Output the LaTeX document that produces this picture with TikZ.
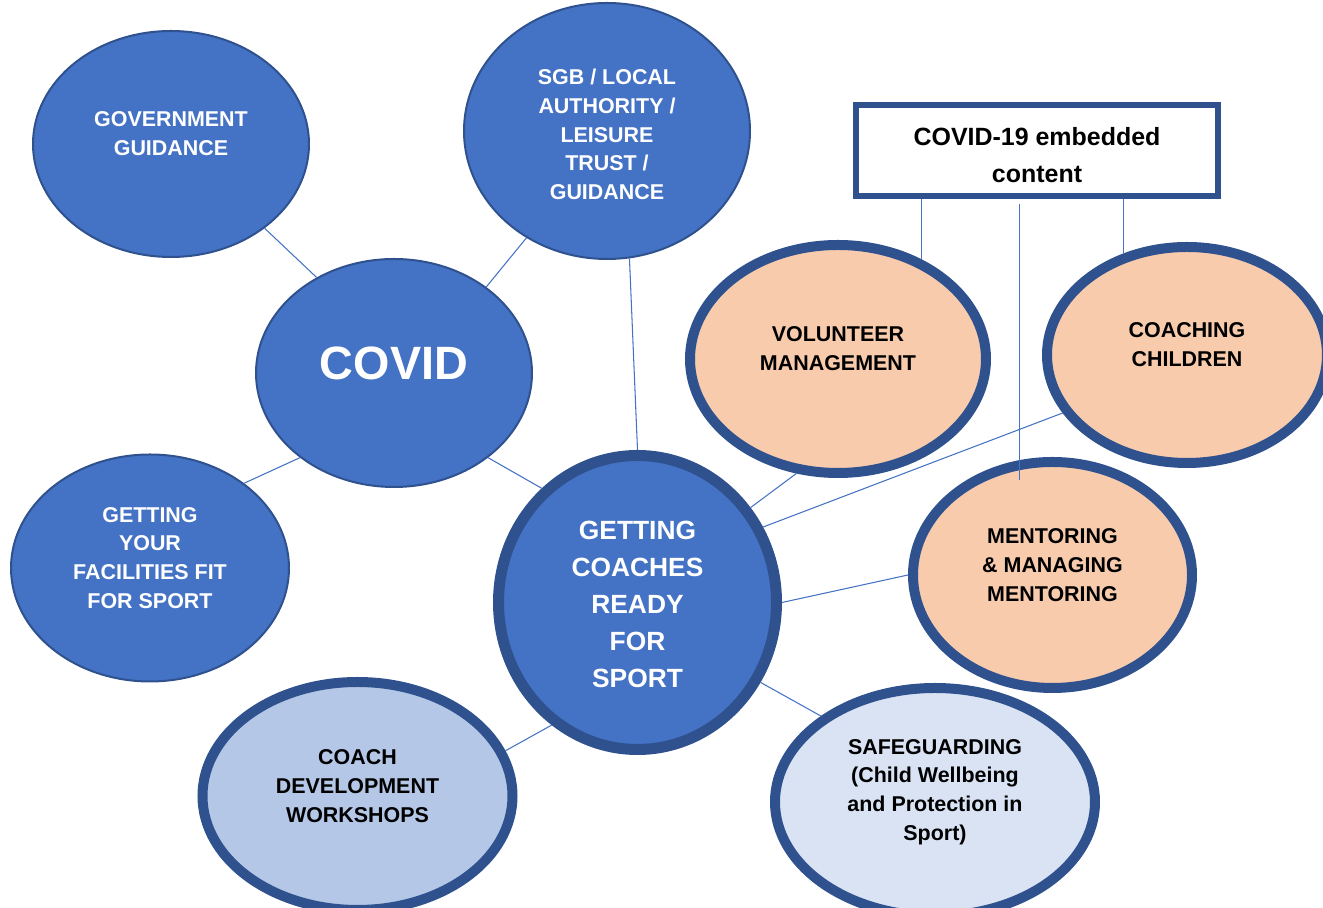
\documentclass[tikz,border=0pt]{standalone}
\usepackage{fontspec}
\setmainfont{Liberation Sans}
\usetikzlibrary{shapes.geometric}
\definecolor{midblue}{HTML}{4472C4}
\definecolor{edgeblue}{HTML}{2F528F}
\definecolor{peach}{HTML}{F8CBAD}
\definecolor{paleblue}{HTML}{B4C7E7}
\definecolor{paleblueb}{HTML}{DAE3F3}
\tikzset{
  bubble/.style={ellipse, draw=edgeblue, fill=midblue, line width=0.04cm, inner sep=0pt},
  ring/.style={ellipse, draw=edgeblue, line width=0.2cm, inner sep=0pt},
  link/.style={draw=midblue, line width=0.6pt},
  wtxt/.style={align=center, text=white, font=\bfseries\fontsize{12.2}{16.4}\selectfont, yshift=0.2cm},
  btxt/.style={align=center, text=black, font=\bfseries\fontsize{12.2}{16.4}\selectfont, yshift=0.2cm}
}
\begin{document}
\begin{tikzpicture}
  \clip (0,0) rectangle (26.46,18.16);

  \node[bubble, minimum width=5.52cm, minimum height=4.52cm] (gov) at (3.42,15.28)
    [label={[wtxt]center:{GOVERNMENT\\GUIDANCE}}] {};
  \node[bubble, minimum width=5.72cm, minimum height=5.12cm] (sgb) at (12.14,15.54)
    [label={[wtxt, yshift=-0.27cm]center:{SGB / LOCAL\\AUTHORITY /\\LEISURE\\TRUST /\\GUIDANCE}}] {};
  \node[bubble, minimum width=5.52cm, minimum height=4.56cm] (covid) at (7.88,10.70)
    [label={[wtxt, font=\bfseries\fontsize{26.6}{30}\selectfont]center:COVID}] {};
  \node[bubble, minimum width=5.56cm, minimum height=4.54cm] (fac) at (3.00,6.80)
    [label={[wtxt]center:{GETTING\\YOUR\\FACILITIES FIT\\FOR SPORT}}] {};
  \node[ring, fill=midblue, line width=0.22cm, minimum width=5.56cm, minimum height=5.88cm] (core) at (12.75,6.11)
    [label={[wtxt, yshift=-0.24cm, font=\bfseries\fontsize{15}{21}\selectfont]center:{GETTING\\COACHES\\READY\\FOR\\SPORT}}] {};

  \node[ring, fill=peach, minimum width=5.92cm, minimum height=4.56cm] (vol) at (16.76,10.98)
    [label={[btxt]center:{VOLUNTEER\\MANAGEMENT}}] {};
  \node[ring, fill=peach, minimum width=5.6cm, minimum height=4.32cm] (cc) at (23.74,11.06)
    [label={[btxt]center:{COACHING\\CHILDREN}}] {};
  \node[ring, fill=peach, minimum width=5.58cm, minimum height=4.52cm] (ment) at (21.05,6.66)
    [label={[btxt]center:{MENTORING\\\& MANAGING\\MENTORING}}] {};
  \node[ring, fill=paleblue, minimum width=6.2cm, minimum height=4.56cm] (dev) at (7.15,2.24)
    [label={[btxt]center:{COACH\\DEVELOPMENT\\WORKSHOPS}}] {};
  \node[ring, fill=paleblueb, minimum width=6.4cm, minimum height=4.56cm] (safe) at (18.70,2.12)
    [label={[btxt]center:{SAFEGUARDING\\(Child Wellbeing\\and Protection in\\Sport)}}] {};

  \node[draw=edgeblue, fill=white, line width=0.12cm, minimum width=7.24cm, minimum height=1.82cm] (box) at (20.74,15.15)
    [label={[btxt, yshift=-0.3cm, font=\bfseries\fontsize{14.2}{21}\selectfont]center:{COVID-19 embedded\\content}}] {};

  \draw[link] (gov.-42) -- (covid.129);
  \draw[link] (sgb.233) -- (covid.43);
  \draw[link] (fac.42) -- (covid.222);
  \draw[link] (sgb.280) -- (core.90);
  \draw[link] (covid.-42) -- (core.130);
  \draw[link] (vol.250) -- (core.40);
  \draw[link] (cc.205) -- (core.31);
  \draw[link] (ment.180) -- (core.0);
  \draw[link] (safe.143) -- (core.-33);
  \draw[link] (dev.17) -- (core.235);

  \draw[link] (vol.50) -- (vol.50 |- box.south);
  \draw[link] (cc.122) -- (cc.122 |- box.south);
  \draw[link] ([yshift=-0.1cm]box.south -| ment.106) -- ([yshift=-0.4cm]ment.106);
\end{tikzpicture}
\end{document}
